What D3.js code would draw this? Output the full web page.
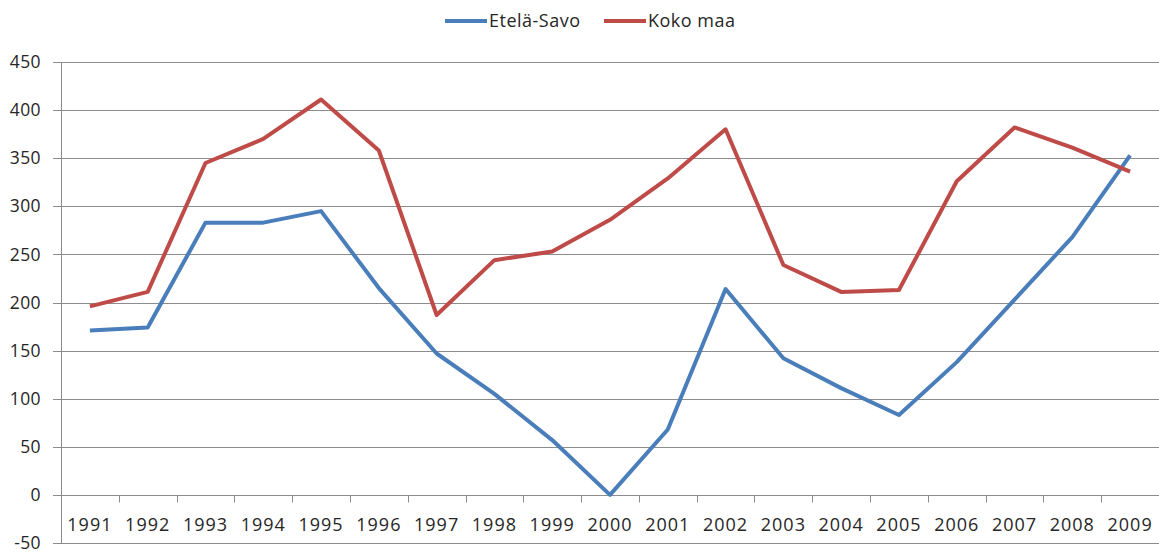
<!DOCTYPE html>
<html>
  <head>
    <meta charset="utf-8" />
    <script src="https://d3js.org/d3.v7.min.js"></script>
    <style>
      body { margin: 0; background: #fff; }
      text { font-family: "Open Sans", sans-serif; fill: #262626; }
      .grid line { stroke: #8c8c8c; stroke-width: 1px; }
      .series { fill: none; stroke-width: 4px; stroke-linejoin: round; }
    </style>
  </head>
  <body>

    <svg id="chart" width="1159" height="554"></svg>

    <script>

      var years = ["1991", "1992", "1993", "1994", "1995", "1996", "1997", "1998", "1999", "2000",
                   "2001", "2002", "2003", "2004", "2005", "2006", "2007", "2008", "2009"];
      var etelaSavo = [171, 174, 283, 283, 295, 215, 147, 105, 57, 0,
                       68, 214, 142, 111, 83, 138, 203, 268, 353];
      var kokoMaa = [196, 211, 345, 370, 411, 358, 187, 244, 253, 286,
                     329, 380, 239, 211, 213, 326, 382, 361, 336];
      var yTicks = [-50, 0, 50, 100, 150, 200, 250, 300, 350, 400, 450];
      var seriesNames = ["Etelä-Savo", "Koko maa"];
      var colors = ["#4a7ebb", "#be4b48"];

      var svg = d3.select("#chart");
      var plotLeft = 61, plotRight = 1159, plotTop = 62, plotBottom = 543;

      var x = d3.scaleBand().domain(years).range([plotLeft, plotRight]);
      var y = d3.scaleLinear().domain([-50, 450]).range([plotBottom, plotTop]);

      // horizontal gridlines + y labels
      var grid = svg.append("g").attr("class", "grid");
      grid.selectAll("line")
        .data(yTicks)
        .enter().append("line")
        .attr("x1", plotLeft - 8)
        .attr("x2", plotRight)
        .attr("y1", function(d) { return Math.round(y(d)) + 0.5; })
        .attr("y2", function(d) { return Math.round(y(d)) + 0.5; });

      svg.selectAll(".ylab")
        .data(yTicks)
        .enter().append("text")
        .attr("class", "ylab")
        .attr("x", 41)
        .attr("y", function(d) { return y(d); })
        .attr("dy", "0.35em")
        .attr("text-anchor", "end")
        .attr("font-size", 17.5)
        .attr("letter-spacing", 0.4)
        .text(function(d) { return d; });

      // vertical axis line
      svg.append("line")
        .attr("x1", plotLeft + 0.5).attr("x2", plotLeft + 0.5)
        .attr("y1", plotTop).attr("y2", plotBottom)
        .attr("stroke", "#8c8c8c");

      // category ticks on the zero line
      var y0 = Math.round(y(0)) + 0.5;
      svg.selectAll(".xtick")
        .data(years.slice(1))
        .enter().append("line")
        .attr("class", "xtick")
        .attr("x1", function(d) { return Math.round(x(d)) + 0.5; })
        .attr("x2", function(d) { return Math.round(x(d)) + 0.5; })
        .attr("y1", y0)
        .attr("y2", y0 + 7)
        .attr("stroke", "#8c8c8c");

      svg.selectAll(".xlab")
        .data(years)
        .enter().append("text")
        .attr("class", "xlab")
        .attr("x", function(d) { return x(d) + x.bandwidth() / 2; })
        .attr("y", 525)
        .attr("dy", "0.35em")
        .attr("text-anchor", "middle")
        .attr("font-size", 18)
        .attr("letter-spacing", 1)
        .text(function(d) { return d; });

      // lines
      var line = d3.line()
        .x(function(d, i) { return x(years[i]) + x.bandwidth() / 2; })
        .y(function(d) { return y(d); });

      [etelaSavo, kokoMaa].forEach(function(values, k) {
        svg.append("path")
          .attr("class", "series")
          .attr("d", line(values))
          .attr("stroke", colors[k]);
      });

      // legend
      var legendX = [445, 604];
      seriesNames.forEach(function(name, k) {
        var g = svg.append("g").attr("transform", "translate(" + legendX[k] + ",21)");
        g.append("line")
          .attr("x1", 0).attr("x2", 42)
          .attr("stroke", colors[k])
          .attr("stroke-width", 4);
        g.append("text")
          .attr("x", 44)
          .attr("dy", "0.35em")
          .attr("font-size", 18)
          .attr("letter-spacing", 0.5)
          .text(name);
      });

    </script>

  </body>
</html>
